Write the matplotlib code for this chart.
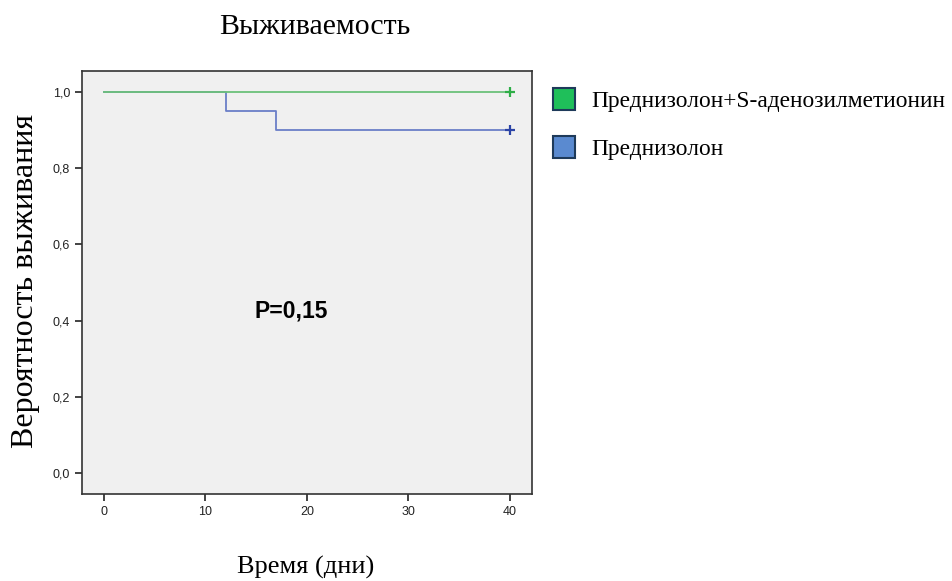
import matplotlib
matplotlib.use("Agg")
import matplotlib.pyplot as plt
from matplotlib.lines import Line2D

# survival data (Kaplan-Meier steps)
time_combo = [0, 40]
surv_combo = [1.0, 1.0]
time_pred = [0, 12, 17, 40]
surv_pred = [1.0, 0.95, 0.90, 0.90]
censor_t = 40

groups = ["Преднизолон+S-аденозилметионин", "Преднизолон"]
xticks = [0, 10, 20, 30, 40]
yticks = [0.0, 0.2, 0.4, 0.6, 0.8, 1.0]
ytick_labels = ["0,0", "0,2", "0,4", "0,6", "0,8", "1,0"]

serif = ["Liberation Serif", "DejaVu Serif"]
sans = ["Liberation Sans", "DejaVu Sans"]

fig = plt.figure(figsize=(9.52, 5.81), dpi=100)
ax = fig.add_axes([0.0861, 0.1497, 0.4727, 0.728])
ax.set_facecolor("#f0f0f0")

ax.step(time_pred, surv_pred, where="post", color="#6b7fc8", lw=1.3)
ax.step(time_combo, surv_combo, where="post", color="#6cc17a", lw=1.3)
ax.plot([censor_t], [surv_combo[-1]], marker="+", color="#2eae47", ms=7, mew=1.6)
ax.plot([censor_t], [surv_pred[-1]], marker="+", color="#2c44a6", ms=7, mew=1.6)

ax.set_xlim(-2.17, 42.2)
ax.set_ylim(-0.055, 1.055)
ax.set_xticks(xticks)
ax.set_yticks(yticks)
ax.set_yticklabels(ytick_labels)
ax.tick_params(direction="out", length=5, width=1.2, labelsize=9, colors="#222222")
for lab in ax.get_xticklabels() + ax.get_yticklabels():
    lab.set_family(sans)
for s in ax.spines.values():
    s.set_color("#333333")
    s.set_linewidth(1.2)

ax.text(18.5, 0.425, "P=0,15", family=sans, fontsize=16.5, fontweight="bold",
        ha="center", va="center")

fig.text(0.331, 0.953, "Выживаемость", family=serif, fontsize=21.5, ha="center", va="center")
fig.text(0.321, 0.023, "Время (дни)", family=serif, fontsize=19, ha="center", va="center")
fig.text(0.027, 0.516, "Вероятность выживания", family=serif, fontsize=23,
         rotation=90, ha="center", va="center")

handles = [
    Line2D([], [], ls="none", marker="s", ms=16, mfc="#1fbf5a", mec="#1e3a5a", mew=1.5),
    Line2D([], [], ls="none", marker="s", ms=16, mfc="#5a8ad0", mec="#1e3a5a", mew=1.5),
]
fig.legend(handles, groups, loc="upper left", bbox_to_anchor=(0.557, 0.88),
           frameon=False, prop={"family": serif, "size": 16.8},
           handletextpad=0.6, labelspacing=1.15, handlelength=1.1)

fig.savefig("out.png", dpi=100)
